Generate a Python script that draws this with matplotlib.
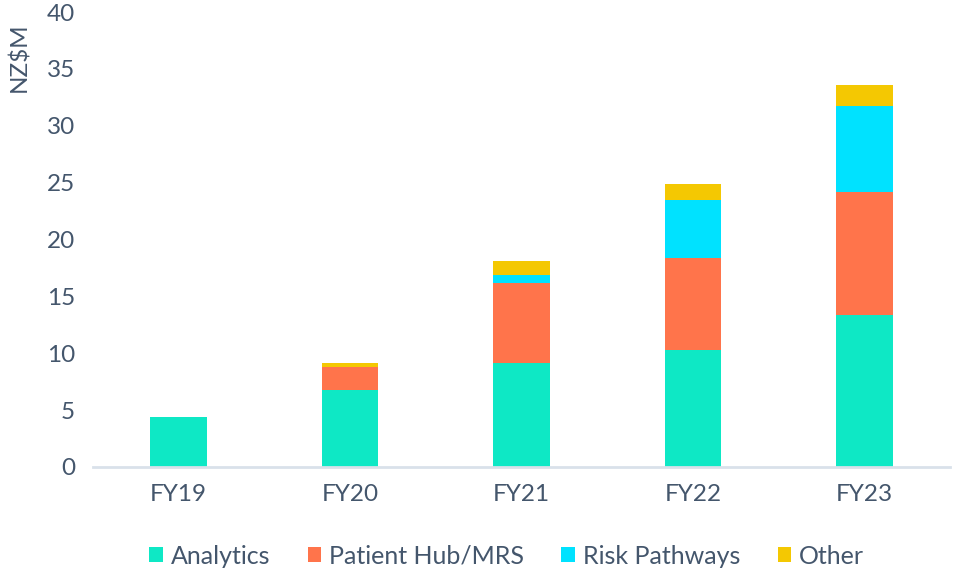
import matplotlib.pyplot as plt
import numpy as np

years = ['FY19', 'FY20', 'FY21', 'FY22', 'FY23']
analytics = [4.4, 6.75, 9.15, 10.3, 13.4]
patient_hub = [0.0, 2.0, 7.0, 8.1, 10.8]
risk_pathways = [0.0, 0.0, 0.75, 5.1, 7.55]
other = [0.0, 0.4, 1.25, 1.4, 1.85]

series = [
    ('Analytics', analytics, '#0EE8C5'),
    ('Patient Hub/MRS', patient_hub, '#FF744B'),
    ('Risk Pathways', risk_pathways, '#00E2FF'),
    ('Other', other, '#F4C802'),
]

text_col = '#44566C'
plt.rcParams['font.family'] = ['Lato', 'DejaVu Sans']

fig = plt.figure(figsize=(9.54, 5.73), dpi=100)
ax = fig.add_axes([0.0975, 0.185, 0.8985, 0.794])

x = np.arange(len(years))
bottom = np.zeros(len(years))
for name, vals, col in series:
    vals = np.array(vals)
    ax.bar(x, vals, 0.33, bottom=bottom, color=col, label=name)
    bottom += vals

ax.set_xlim(-0.5, 4.5)
ax.set_ylim(0, 40)
ax.set_yticks(range(0, 41, 5))
ax.set_xticks(x)
ax.set_xticklabels(years)
for s in ['top', 'right', 'left']:
    ax.spines[s].set_visible(False)
ax.spines['bottom'].set_color('#D9E1EA')
ax.spines['bottom'].set_linewidth(2)
ax.tick_params(axis='both', length=0, labelsize=17.5, colors=text_col)
ax.tick_params(axis='x', pad=12)
ax.tick_params(axis='y', pad=13)

fig.text(19 / 954, 1 - 57 / 573, 'NZ$M', rotation=90, ha='center', va='center',
         fontsize=17.5, color=text_col)

leg = fig.legend(loc='center', bbox_to_anchor=(0.531, 1 - 556 / 573), ncol=4,
                 frameon=False, fontsize=18, handlelength=0.55, handleheight=0.55,
                 handletextpad=0.3, columnspacing=1.5)
for t in leg.get_texts():
    t.set_color(text_col)

fig.savefig('out.png', dpi=100)
